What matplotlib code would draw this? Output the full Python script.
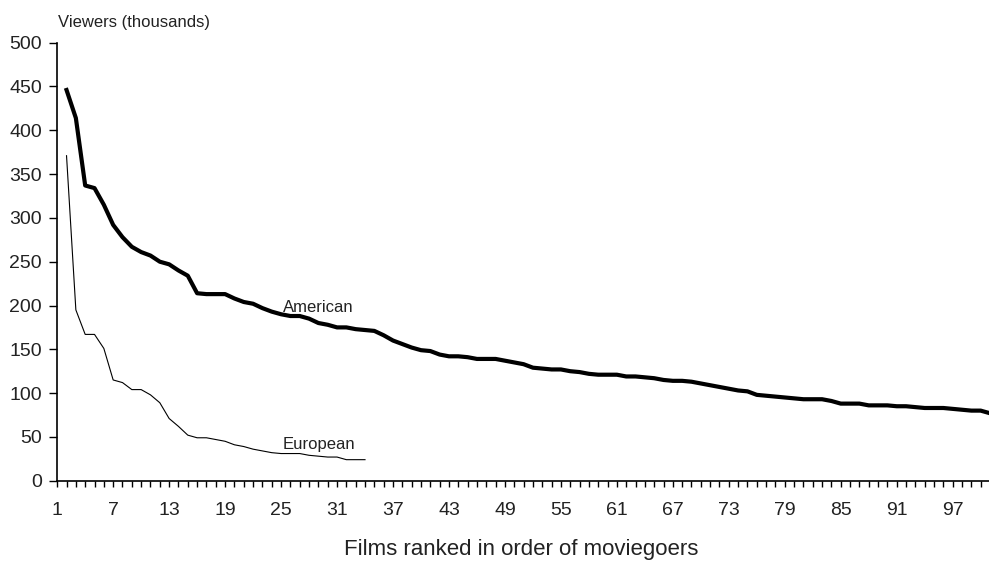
import matplotlib
matplotlib.use("Agg")
import matplotlib.pyplot as plt

# Data
american_rank = list(range(2, 102))
american_viewers = [
    446, 414, 337, 334, 315, 292, 278, 267, 261, 257,
    250, 247, 240, 234, 214, 213, 213, 213, 208, 204,
    202, 197, 193, 190, 188, 188, 185, 180, 178, 175,
    175, 173, 172, 171, 166, 160, 156, 152, 149, 148,
    144, 142, 142, 141, 139, 139, 139, 137, 135, 133,
    129, 128, 127, 127, 125, 124, 122, 121, 121, 121,
    119, 119, 118, 117, 115, 114, 114, 113, 111, 109,
    107, 105, 103, 102, 98, 97, 96, 95, 94, 93,
    93, 93, 91, 88, 88, 88, 86, 86, 86, 85,
    85, 84, 83, 83, 83, 82, 81, 80, 80, 77,
]
european_rank = list(range(2, 35))
european_viewers = [
    371, 195, 167, 167, 151, 115, 112, 104, 104, 98,
    89, 71, 62, 52, 49, 49, 47, 45, 41, 39,
    36, 34, 32, 31, 31, 31, 29, 28, 27, 27,
    24, 24, 24,
]
x_tick_labels = [str(v) for v in range(1, 98, 6)]
y_ticks = list(range(0, 501, 50))

plt.rcParams['font.family'] = ['Liberation Sans', 'DejaVu Sans']
text_color = '#222222'

fig = plt.figure(figsize=(9.89, 5.61), dpi=100)
ax = fig.add_axes([57.2 / 989, 1 - 480.7 / 561, 1 - 57.2 / 989 + 0.001, (480.7 - 42.7) / 561])

ax.plot(american_rank, american_viewers, color='black', lw=3.0, solid_joinstyle='round', clip_on=False)
ax.plot(european_rank, european_viewers, color='black', lw=0.8, clip_on=False)

ax.set_xlim(1, 101)
ax.set_ylim(0, 500)

for side in ('top', 'right'):
    ax.spines[side].set_visible(False)
for side in ('left', 'bottom'):
    ax.spines[side].set_linewidth(1.2)
    ax.spines[side].set_color('black')

all_x = list(range(1, 102))
ax.set_xticks(all_x)
ax.set_xticklabels([str(v) if str(v) in x_tick_labels else '' for v in all_x])
ax.set_yticks(y_ticks)
ax.tick_params(axis='y', direction='out', length=6, width=1.0, pad=5,
               labelsize=14, labelcolor=text_color)
ax.tick_params(axis='x', direction='out', length=4, width=1.0, pad=11,
               labelsize=14, labelcolor=text_color)

ax.text(25.2, 193, 'American', fontsize=12, color=text_color, va='baseline', ha='left')
ax.text(25.2, 36.2, 'European', fontsize=12, color=text_color, va='baseline', ha='left')

fig.text(58 / 989, 1 - 27 / 561, 'Viewers (thousands)', fontsize=12,
         color=text_color, va='baseline', ha='left')
fig.text((336 + 706.7) / 2 / 989, 1 - 555 / 561, 'Films ranked in order of moviegoers',
         fontsize=16, color=text_color, va='baseline', ha='center')

fig.savefig('out.png', dpi=100)
